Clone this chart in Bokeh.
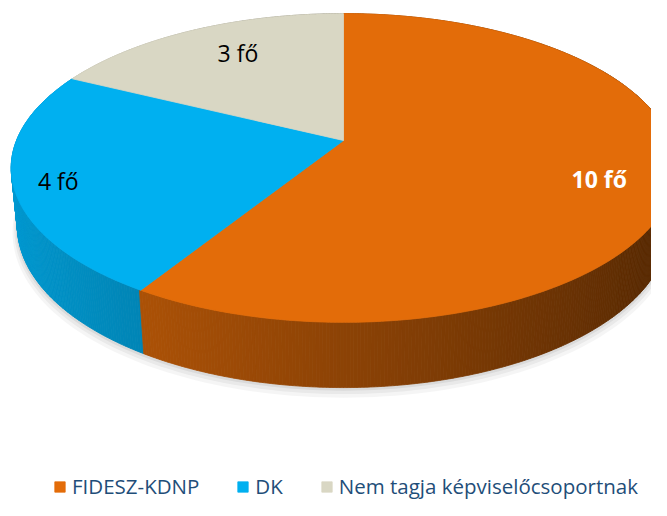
import numpy as np
from bokeh.plotting import figure
from bokeh.models import Range1d, Legend, LegendItem
from bokeh.core.properties import value
from bokeh.embed import file_html
from bokeh.resources import INLINE

# ---- data ----
categories = ["FIDESZ-KDNP", "DK", "Nem tagja képviselőcsoportnak"]
values = [10, 4, 3]
labels = ["10 fő", "4 fő", "3 fő"]
colors = ["#E36C09", "#00B0F0", "#D9D7C4"]

# ---- 3D projection (layout) ----
CX, CY = 343.0, 140.0
S = 327.0
ALPHA = np.radians(27.2)
F = 5.0
T = 0.20
SA, CA = np.sin(ALPHA), np.cos(ALPHA)


def proj(x, z, y=0.0):
    x = np.asarray(x, float)
    z = np.asarray(z, float)
    Y = z * SA + y * CA
    Zd = z * CA - y * SA
    k = F / (F + Zd)
    return CX + S * x * k, CY - S * Y * k


def hex_to_rgb(h):
    h = h.lstrip("#")
    return tuple(int(h[i:i + 2], 16) for i in (0, 2, 4))


def shade(h, k):
    r, g, b = hex_to_rgb(h)
    return "#%02x%02x%02x" % (int(r * k), int(g * k), int(b * k))


total = float(sum(values))
bounds = np.concatenate([[0.0], np.cumsum(values)]) / total * 360.0

W, H = 651, 500
p = figure(width=W, height=H, output_backend="svg", toolbar_location=None,
           x_range=Range1d(0, W), y_range=Range1d(H, 0),
           min_border=0, outline_line_color=None)
p.axis.visible = False
p.grid.visible = False

# soft shadow under the pie
for dr, dy, a in [(1.016, 0.020, 0.08), (1.010, 0.013, 0.10), (1.005, 0.006, 0.14)]:
    th = np.radians(np.linspace(0, 360, 241))
    sx, sy = proj(dr * np.sin(th), dr * np.cos(th), -T - dy)
    p.patch(list(sx), list(sy), fill_color="#7f7f7f", fill_alpha=a, line_color=None)

# side wall quads
th_all = np.linspace(0, 360, 721)
quads_x, quads_y, quad_cols, depth = [], [], [], []
for j in range(len(th_all) - 1):
    a0, a1 = np.radians(th_all[j]), np.radians(th_all[j + 1])
    mid = 0.5 * (th_all[j] + th_all[j + 1])
    idx = int(np.searchsorted(bounds, mid) - 1)
    idx = min(max(idx, 0), len(values) - 1)
    x0, z0 = np.sin(a0), np.cos(a0)
    x1, z1 = np.sin(a1), np.cos(a1)
    tx, ty = proj([x0, x1], [z0, z1], 0.0)
    bx, by = proj([x1, x0], [z1, z0], -T)
    quads_x.append([tx[0], tx[1], bx[0], bx[1]])
    quads_y.append([ty[0], ty[1], by[0], by[1]])
    k = float(np.clip(0.62 - 0.26 * np.sin(np.radians(mid)), 0.40, 1.0))
    quad_cols.append(shade(colors[idx], k))
    depth.append(np.cos(np.radians(mid)))
order = np.argsort(depth)[::-1]
p.patches([quads_x[o] for o in order], [quads_y[o] for o in order],
          fill_color=[quad_cols[o] for o in order],
          line_color=[quad_cols[o] for o in order], line_width=0.8)

# top faces
top_xs, top_ys = [], []
cx0, cy0 = proj([0.0], [0.0], 0.0)
for i in range(len(values)):
    th = np.radians(np.linspace(bounds[i], bounds[i + 1], 200))
    ax, ay = proj(np.sin(th), np.cos(th), 0.0)
    top_xs.append([cx0[0]] + list(ax))
    top_ys.append([cy0[0]] + list(ay))
top = p.patches(top_xs, top_ys, fill_color=colors, line_color=colors, line_width=0.8)

# data labels
LABEL_R = [0.80, 0.88, 0.74]
LABEL_DX = [-6, 4, 9]
LABEL_DY = [4, 3, -3]
LABEL_COLORS = ["white", "black", "black"]
LABEL_STYLE = ["bold", "normal", "normal"]
mids = np.radians(0.5 * (bounds[:-1] + bounds[1:]))
for i in range(len(values)):
    xx, yy = proj([LABEL_R[i] * np.sin(mids[i])], [LABEL_R[i] * np.cos(mids[i])], 0.0)
    p.text(x=[xx[0]], y=[yy[0]], text=[labels[i]], text_align="center",
           text_baseline="middle", text_font=value("Open Sans"), text_font_size="23px",
           text_font_style=LABEL_STYLE[i], text_color=LABEL_COLORS[i],
           x_offset=LABEL_DX[i], y_offset=LABEL_DY[i])

# legend
items = [LegendItem(label=categories[i], renderers=[top], index=i) for i in range(len(values))]
legend = Legend(items=items, orientation="horizontal", location=(53, 0),
                glyph_width=13, glyph_height=13, label_standoff=6, spacing=37,
                padding=0, margin=0, border_line_color=None, background_fill_alpha=0,
                label_text_font="Open Sans", label_text_font_size="20.5px",
                label_text_color="#1F4E79")
p.add_layout(legend, "center")

open("out.html", "w").write(file_html(p, INLINE))
